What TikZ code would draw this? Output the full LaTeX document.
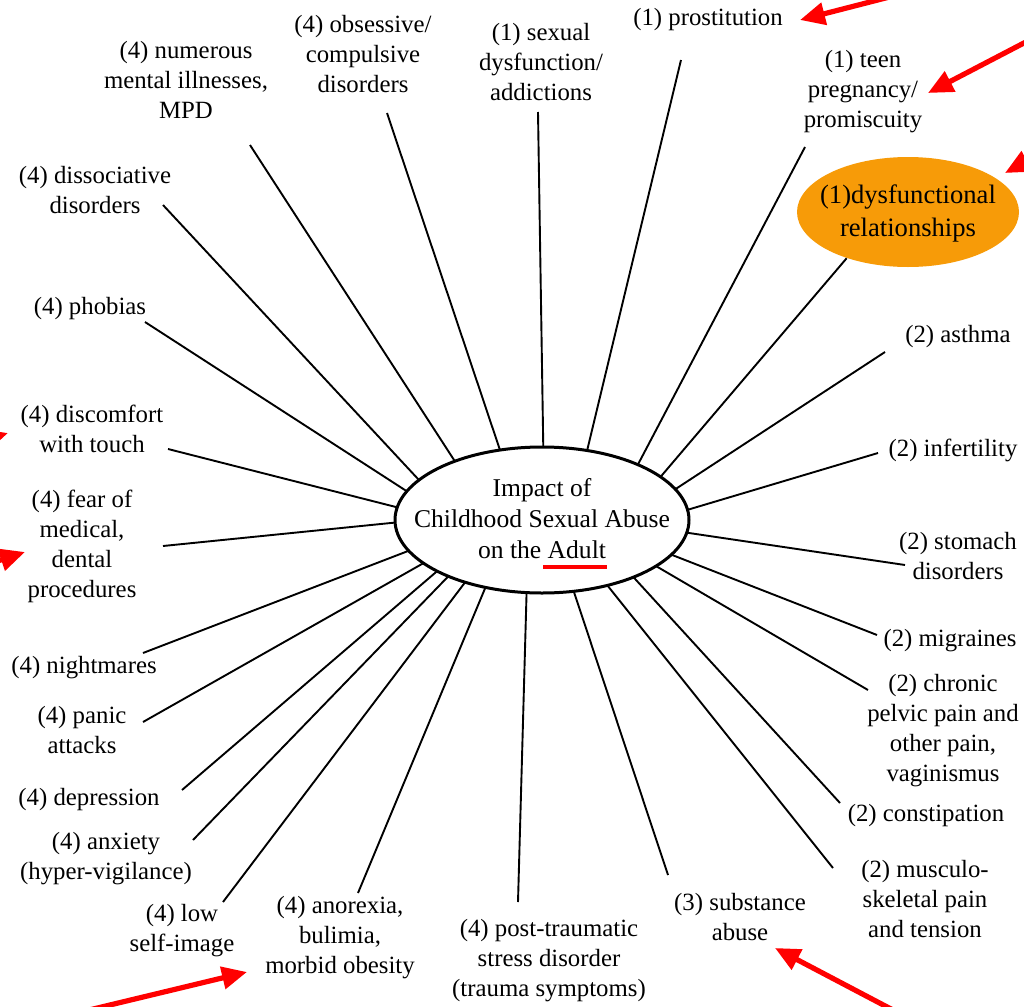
\documentclass[tikz,border=0pt]{standalone}
\usepackage{fontspec}
\setmainfont{Liberation Serif}
\usetikzlibrary{shapes.geometric,arrows.meta}
\definecolor{orangefill}{RGB}{247,155,8}
\begin{document}
\begin{tikzpicture}[x=0.5pt,y=-0.5pt,
  lbl/.style={align=center,inner sep=0pt,font=\fontsize{12.4}{15}\selectfont},
  ray/.style={line width=0.95pt},
  redarrow/.style={draw=red,line width=2.6pt,-{Triangle[length=12.5pt,width=11pt]}}]
\useasboundingbox (0,0) rectangle (1024,1007);
\clip (0,0) rectangle (1024,1007);

% centre
\node[ellipse,draw,line width=1.5pt,minimum width=147pt,minimum height=73pt,inner sep=0pt,outer sep=0pt] (E) at (542,520) {};
\node[lbl,font=\fontsize{12.8}{15.5}\selectfont] (T) at (542,519) {Impact of\\Childhood Sexual Abuse\\on the Adult};
\coordinate (ul1) at (543,567);
\coordinate (ul2) at (607,567);
\draw[red,line width=2pt] (ul1) -- (ul2);

% orange node
\node[ellipse,fill=orangefill,minimum width=111pt,minimum height=55pt,inner sep=0pt] (dys) at (908,212) {};
\node[lbl,font=\fontsize{13.3}{16.5}\selectfont] (dyst) at (908,213) {(1)dysfunctional\\relationships};

% labels
\node[lbl] (num) at (186,80) {(4) numerous\\mental illnesses,\\MPD};
\node[lbl] (obs) at (363,54) {(4) obsessive/\\compulsive\\disorders};
\node[lbl] (sex) at (541,62) {(1) sexual\\dysfunction/\\addictions};
\node[lbl] (pro) at (708,20) {(1) prostitution};
\node[lbl] (teen) at (863,92) {(1) teen\\pregnancy/\\promiscuity};
\node[lbl] (ast) at (958,337) {(2) asthma};
\node[lbl] (inf) at (953,450) {(2) infertility};
\node[lbl] (sto) at (958,556) {(2) stomach\\disorders};
\node[lbl] (mig) at (950,641) {(2) migraines};
\node[lbl] (chr) at (943,731) {(2) chronic\\pelvic pain and\\other pain,\\vaginismus};
\node[lbl] (con) at (926,816) {(2) constipation};
\node[lbl] (mus) at (925,899) {(2) musculo-\\skeletal pain\\and tension};
\node[lbl] (sub) at (740,917) {(3) substance\\abuse};
\node[lbl] (pts) at (549,961) {(4) post-traumatic\\stress disorder\\(trauma symptoms)};
\node[lbl] (ano) at (340,938) {(4) anorexia,\\bulimia,\\morbid obesity};
\node[lbl] (low) at (182,931) {(4) low\\self-image};
\node[lbl] (anx) at (106,859) {(4) anxiety\\(hyper-vigilance)};
\node[lbl] (dep) at (89,800) {(4) depression};
\node[lbl] (pan) at (82,730) {(4) panic\\attacks};
\node[lbl] (nig) at (84,668) {(4) nightmares};
\node[lbl] (fea) at (82,546) {(4) fear of\\medical,\\dental\\procedures};
\node[lbl] (dis) at (92,429) {(4) discomfort\\with touch};
\node[lbl] (pho) at (90,309) {(4) phobias};
\node[lbl] (dss) at (95,190) {(4) dissociative\\disorders};

% outer ends of the rays
\coordinate (num-e) at (250,145);
\coordinate (obs-e) at (387,113);
\coordinate (sex-e) at (538,112);
\coordinate (pro-e) at (681,60);
\coordinate (teen-e) at (805,147);
\coordinate (ast-e) at (885,352);
\coordinate (inf-e) at (878,453);
\coordinate (sto-e) at (905,565);
\coordinate (mig-e) at (877,635);
\coordinate (chr-e) at (868,690);
\coordinate (con-e) at (840,803);
\coordinate (mus-e) at (833,868);
\coordinate (sub-e) at (668,875);
\coordinate (pts-e) at (518,902);
\coordinate (ano-e) at (358,893);
\coordinate (low-e) at (223,902);
\coordinate (anx-e) at (193,840);
\coordinate (dep-e) at (182,790);
\coordinate (pan-e) at (143,722);
\coordinate (nig-e) at (143,653);
\coordinate (fea-e) at (163,546);
\coordinate (dis-e) at (168,449);
\coordinate (pho-e) at (145,322);
\coordinate (dss-e) at (163,205);

% rays
\draw[ray] (num-e) -- (E.146.9);
\draw[ray] (obs-e) -- (E.121.0);
\draw[ray] (sex-e) -- (E.89.2);
\draw[ray] (pro-e) -- (E.57.3);
\draw[ray] (teen-e) -- (E.30.2);
\draw[ray] (dys.217) -- (E.20.1);
\draw[ray] (ast-e) -- (E.13.6);
\draw[ray] (inf-e) -- (E.4.6);
\draw[ray] (sto-e) -- (E.-5.9);
\draw[ray] (mig-e) -- (E.-15.9);
\draw[ray] (chr-e) -- (E.-22.2);
\draw[ray] (con-e) -- (E.-32.1);
\draw[ray] (mus-e) -- (E.-45.4);
\draw[ray] (sub-e) -- (E.-66.8);
\draw[ray] (pts-e) -- (E.258.4);
\draw[ray] (ano-e) -- (E.230.9);
\draw[ray] (low-e) -- (E.219.0);
\draw[ray] (anx-e) -- (E.211.4);
\draw[ray] (dep-e) -- (E.206.3);
\draw[ray] (pan-e) -- (E.200.2);
\draw[ray] (nig-e) -- (E.193.2);
\draw[ray] (fea-e) -- (E.181.5);
\draw[ray] (dis-e) -- (E.175.4);
\draw[ray] (pho-e) -- (E.168.4);
\draw[ray] (dss-e) -- (E.162.3);

% red arrows
\coordinate (r1s) at (905,-7);   \coordinate (r1t) at (800,20);
\coordinate (r2s) at (1045,32);  \coordinate (r2t) at (928,93);
\coordinate (r3s) at (1048,150); \coordinate (r3t) at (1005,173);
\coordinate (r4s) at (-60,454);  \coordinate (r4t) at (8,433);
\coordinate (r5s) at (-60,580);  \coordinate (r5t) at (25,552);
\coordinate (r6s) at (60,1017);  \coordinate (r6t) at (247,972);
\coordinate (r7s) at (910,1019); \coordinate (r7t) at (775,948);
\draw[redarrow] (r1s) -- (r1t);
\draw[redarrow] (r2s) -- (r2t);
\draw[redarrow] (r3s) -- (r3t);
\draw[redarrow] (r4s) -- (r4t);
\draw[redarrow] (r5s) -- (r5t);
\draw[redarrow] (r6s) -- (r6t);
\draw[redarrow] (r7s) -- (r7t);
\end{tikzpicture}
\end{document}
